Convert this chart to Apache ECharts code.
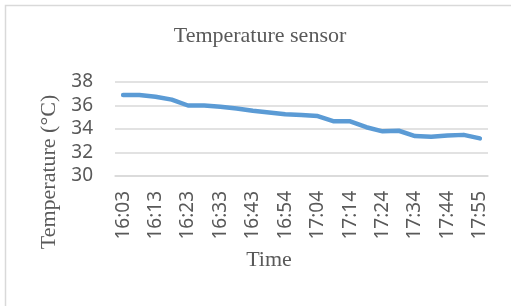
<!DOCTYPE html>
<html>
<head>
<meta charset="utf-8">
<script src="https://cdn.jsdelivr.net/npm/echarts@6/dist/echarts.min.js"></script>
<style>
html,body{margin:0;padding:0;background:#fff;}
#c{width:511px;height:306px;}
</style>
</head>
<body>
<div id="c"></div>
<script>
var categories = ['16:03','16:08','16:13','16:18','16:23','16:28','16:33','16:38','16:43','16:48','16:54','16:59','17:04','17:09','17:14','17:19','17:24','17:29','17:34','17:39','17:44','17:49','17:55'];
var temperature = [36.9,36.9,36.75,36.5,36.0,36.0,35.9,35.75,35.55,35.4,35.25,35.2,35.1,34.65,34.65,34.15,33.8,33.85,33.4,33.35,33.45,33.5,33.2];
var yTicks = {min: 30, max: 38, interval: 2};

var chart = echarts.init(document.getElementById('c'), null, {renderer: 'canvas'});
chart.setOption({
  animation: false,
  backgroundColor: '#ffffff',
  graphic: [{
    type: 'rect',
    shape: {x: 5.5, y: 5.5, width: 600, height: 400},
    style: {fill: 'none', stroke: '#D9D9D9', lineWidth: 1.5},
    z: -1
  }],
  title: {
    text: 'Temperature sensor',
    left: 260,
    textAlign: 'center',
    top: 25,
    padding: 0,
    textStyle: {fontFamily: 'Liberation Serif', fontSize: 22, fontWeight: 'normal', color: '#595959'}
  },
  grid: {left: 115, right: 23, top: 82, bottom: 130, containLabel: false},
  xAxis: {
    type: 'category',
    data: categories,
    boundaryGap: true,
    name: 'Time',
    nameLocation: 'middle',
    nameGap: 73,
    nameTextStyle: {fontFamily: 'Liberation Serif', fontSize: 22, color: '#595959', padding: [0, 65, 0, 0]},
    axisLine: {show: true, lineStyle: {color: '#D9D9D9', width: 1.5}},
    axisTick: {show: false},
    axisLabel: {interval: 1, rotate: 90, margin: 15, fontFamily: 'Noto Sans', fontSize: 19, color: '#595959'}
  },
  yAxis: {
    type: 'value',
    min: yTicks.min,
    max: yTicks.max,
    interval: yTicks.interval,
    name: 'Temperature (°C)',
    nameLocation: 'middle',
    nameGap: 49,
    nameRotate: 90,
    nameTextStyle: {fontFamily: 'Liberation Serif', fontSize: 22, color: '#595959', padding: [0, 86, 0, 0]},
    axisLine: {show: false},
    axisTick: {show: false},
    axisLabel: {margin: 22, fontFamily: 'Noto Sans', fontSize: 19, color: '#595959'},
    splitLine: {lineStyle: {color: '#D9D9D9', width: 1.5}}
  },
  series: [{
    type: 'line',
    data: temperature,
    showSymbol: false,
    symbol: 'none',
    lineStyle: {color: '#5B9BD5', width: 4.5, cap: 'round', join: 'round'}
  }]
});
</script>
</body>
</html>
